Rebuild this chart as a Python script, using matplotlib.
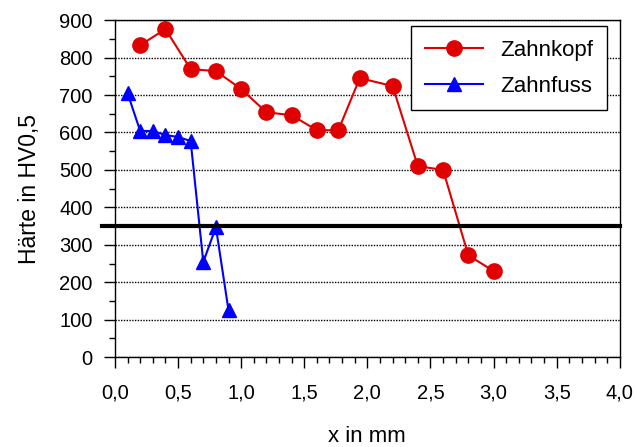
import matplotlib
matplotlib.use("Agg")
import matplotlib.pyplot as plt
from matplotlib.ticker import MultipleLocator, FuncFormatter

plt.rcParams["font.family"] = ["Liberation Sans", "DejaVu Sans"]

# Zahnkopf (red)
kopf_x = [0.2, 0.4, 0.6, 0.8, 1.0, 1.2, 1.4, 1.6, 1.77, 1.94, 2.2, 2.4, 2.6, 2.8, 3.0]
kopf_y = [833, 876, 769, 764, 716, 654, 646, 606, 606, 745, 724, 510, 500, 272, 230]

# Zahnfuss (blue)
fuss_x = [0.1, 0.2, 0.3, 0.4, 0.5, 0.6, 0.7, 0.8, 0.9]
fuss_y = [705, 604, 604, 593, 588, 577, 254, 347, 125]

limit = 350

fig = plt.figure(figsize=(6.35, 4.47), dpi=100)
ax = fig.add_axes([0.181, 0.201, 0.795, 0.754])

ax.plot(kopf_x, kopf_y, "-o", color="#e00000", lw=1.5, ms=11, label="Zahnkopf")
ax.plot(fuss_x, fuss_y, "-^", color="#0000ff", lw=1.5, ms=10, label="Zahnfuss")
ax.axhline(limit, xmin=-0.025, xmax=1.0, color="black", lw=3, clip_on=False)

ax.set_xlim(0, 4)
ax.set_ylim(0, 900)
ax.xaxis.set_major_locator(MultipleLocator(0.5))
ax.xaxis.set_minor_locator(MultipleLocator(0.1))
ax.yaxis.set_major_locator(MultipleLocator(100))
ax.yaxis.set_minor_locator(MultipleLocator(50))
ax.xaxis.set_major_formatter(FuncFormatter(lambda v, p: f"{v:.1f}".replace(".", ",")))
ax.tick_params(which="major", direction="out", length=8, width=1, labelsize=14.5, pad=8)
ax.tick_params(axis="x", which="major", pad=11)
ax.tick_params(which="minor", direction="out", length=4.5, width=1)
ax.grid(True, axis="y", which="major", color="black", ls=(0, (1, 1)), lw=1)
for s in ax.spines.values():
    s.set_linewidth(1)

ax.set_xlabel("x in mm", fontsize=16, labelpad=17)
ax.set_ylabel("Härte in HV0,5", fontsize=16.5, labelpad=13)

leg = ax.legend(loc="upper right", fontsize=16, fancybox=False, framealpha=1,
                edgecolor="black", borderpad=0.6, handlelength=2.6, labelspacing=0.7,
                handletextpad=0.8, borderaxespad=0, bbox_to_anchor=(0.974, 0.982))
leg.get_frame().set_linewidth(1)

fig.savefig("out.png", dpi=100)
